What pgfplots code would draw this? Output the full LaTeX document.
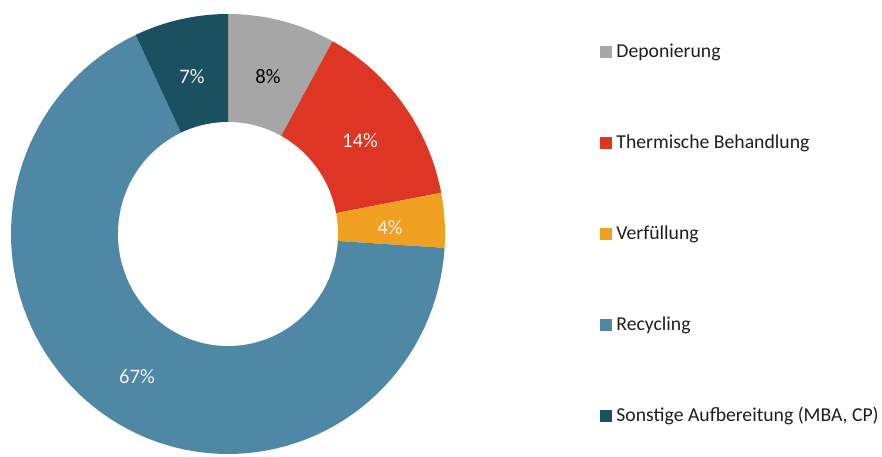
\documentclass[border=0pt]{standalone}
\usepackage{pgfplots}
\usepackage{pgfplotstable}
\pgfplotsset{compat=1.18}
\usepackage{fontspec}
\setmainfont{Carlito}
\definecolor{cDep}{RGB}{166,166,166}
\definecolor{cThe}{RGB}{222,54,36}
\definecolor{cVer}{RGB}{240,161,33}
\definecolor{cRec}{RGB}{79,136,165}
\definecolor{cSon}{RGB}{27,80,96}
\definecolor{legtext}{RGB}{30,30,30}
\definecolor{labwhite}{RGB}{242,242,242}

% share in percent, drawn clockwise from the top
\pgfplotstableread{
name pct col ly
Deponierung 8 cDep 52
Thermische 14 cThe 143
Verfuellung 4 cVer 234
Recycling 67 cRec 325
Sonstige 7 cSon 416
}\donutdata

\begin{document}
\begin{tikzpicture}
\useasboundingbox (0,0) rectangle (441pt,228pt);
\begin{axis}[
  width=441pt, height=228pt, scale only axis,
  xmin=0, xmax=882, ymin=0, ymax=456, y dir=reverse,
  hide axis, clip=false,
]
\def\astart{90}
\pgfplotsforeachungrouped \i in {0,...,4}{%
  \pgfplotstablegetelem{\i}{pct}\of\donutdata \let\p\pgfplotsretval
  \pgfplotstablegetelem{\i}{col}\of\donutdata \let\c\pgfplotsretval
  \pgfplotstablegetelem{\i}{ly}\of\donutdata \let\yy\pgfplotsretval
  \pgfmathsetmacro\aend{\astart-3.6*\p}%
  \edef\cmd{\noexpand\addplot[fill=\c, draw=none, domain=\aend:\astart, samples=90, variable=\noexpand\t]
    ({228+217*cos(\noexpand\t)},{234-220*sin(\noexpand\t)}) -- (axis cs:228,234) -- cycle;
    \noexpand\addplot[only marks, mark=square*, mark size=2.75pt, color=\c] coordinates {(605.5,\yy)};}%
  \cmd
  \global\let\astart\aend
}
\addplot[fill=white, draw=none, domain=0:360, samples=150] ({228+110*cos(x)},{234-112*sin(x)});

\node[font=\fontsize{10.3}{12}\selectfont, text=black] at (axis cs:268,77) {8\%};
\node[font=\fontsize{10.3}{12}\selectfont, text=labwhite] at (axis cs:192,77) {7\%};
\node[font=\fontsize{10.3}{12}\selectfont, text=labwhite] at (axis cs:360,141) {14\%};
\node[font=\fontsize{10.3}{12}\selectfont, text=labwhite] at (axis cs:390,228) {4\%};
\node[font=\fontsize{10.3}{12}\selectfont, text=labwhite] at (axis cs:137,377) {67\%};

\begin{scope}[every node/.style={anchor=west, inner sep=0pt, text=legtext, font=\fontsize{9.85}{11}\selectfont}]
\node at (axis cs:616,52) {Deponierung};
\node at (axis cs:616,143) {Thermische Behandlung};
\node at (axis cs:616,234) {Verfüllung};
\node at (axis cs:616,325) {Recycling};
\node at (axis cs:616,416) {Sonstige Aufbereitung (MBA, CP)};
\end{scope}
\end{axis}
\end{tikzpicture}
\end{document}
